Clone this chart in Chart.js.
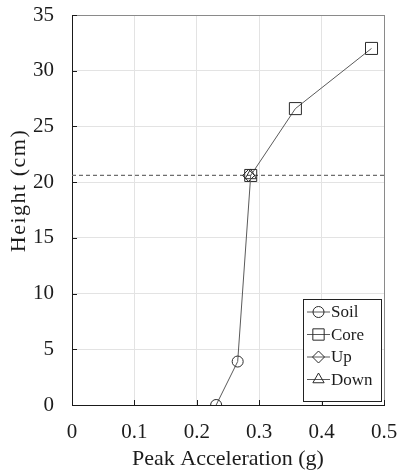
<!DOCTYPE html>
<html>
<head>
<meta charset="utf-8">
<script src="https://cdn.jsdelivr.net/npm/chart.js@4/dist/chart.umd.min.js"></script>
<style>
  html, body { margin: 0; padding: 0; background: #ffffff; }
  #wrap { width: 399px; height: 475px; position: relative; }
</style>
</head>
<body>
<div id="wrap"><canvas id="chart"></canvas></div>
<script>
// Peak acceleration profile along the model height
const soilAccel = [0.231, 0.2655, 0.2864];
const soilHeight = [0, 3.9, 20.6];
const coreAccel = [0.2864, 0.358, 0.480];
const coreHeight = [20.6, 26.6, 32.0];
const upAccel = [0.283];
const upHeight = [20.6];
const downAccel = [0.2864];
const downHeight = [20.6];
const interfaceHeight = 20.6;
const accelRange = [0, 0.5];

const seriesNames = ['Soil', 'Core', 'Up', 'Down'];
const xTickValues = [0, 0.1, 0.2, 0.3, 0.4, 0.5];
const xTickLabels = ['0', '0.1', '0.2', '0.3', '0.4', '0.5'];
const yTickValues = [0, 5, 10, 15, 20, 25, 30, 35];
const yTickLabels = ['0', '5', '10', '15', '20', '25', '30', '35'];
const xAxisTitle = 'Peak Acceleration (g)';
const yAxisTitle = 'Height (cm)';

const SERIF = "'Liberation Serif', 'Times New Roman', serif";
const TEXT = '#1c1c1c';
const LINE = '#5a5a5a';
const MARK = '#2a2a2a';

const pairs = (xs, ys) => xs.map((x, i) => ({ x: x, y: ys[i] }));

const datasets = [
  {
    label: seriesNames[0], data: pairs(soilAccel, soilHeight),
    pointStyle: 'circle', pointRadius: [5.5, 5.5, 0], legendRadius: 5.5,
    borderColor: LINE, borderWidth: 1, pointBorderColor: MARK, pointBorderWidth: 1,
    pointBackgroundColor: 'rgba(0,0,0,0)', showLine: true, inLegend: true
  },
  {
    label: seriesNames[1], data: pairs(coreAccel, coreHeight),
    pointStyle: 'rect', pointRadius: 8.5, legendRadius: 8,
    borderColor: LINE, borderWidth: 1, pointBorderColor: MARK, pointBorderWidth: 1,
    pointBackgroundColor: 'rgba(0,0,0,0)', showLine: true, inLegend: true
  },
  {
    label: seriesNames[2], data: pairs(upAccel, upHeight),
    pointStyle: 'rectRot', pointRadius: 6, legendRadius: 6,
    borderColor: LINE, borderWidth: 1, pointBorderColor: MARK, pointBorderWidth: 1,
    pointBackgroundColor: 'rgba(0,0,0,0)', showLine: false, inLegend: true
  },
  {
    label: seriesNames[3], data: pairs(downAccel, downHeight),
    pointStyle: 'triangle', pointRadius: 6.5, legendRadius: 6.5,
    borderColor: LINE, borderWidth: 1, pointBorderColor: MARK, pointBorderWidth: 1,
    pointBackgroundColor: 'rgba(0,0,0,0)', showLine: false, inLegend: true
  },
  {
    label: 'interface', data: pairs(accelRange, [interfaceHeight, interfaceHeight]),
    borderColor: '#6e6e6e', borderWidth: 1.2, borderDash: [4, 3], pointRadius: 0,
    showLine: true, inLegend: false, order: 5
  }
];

// marker outline used by the boxed legend
function markerPath(ctx, style, x, y, r) {
  ctx.beginPath();
  if (style === 'rect') {
    const s = Math.SQRT1_2 * r;
    ctx.rect(x - s, y - s, 2 * s, 2 * s);
  } else if (style === 'rectRot') {
    ctx.moveTo(x - r, y); ctx.lineTo(x, y - r); ctx.lineTo(x + r, y); ctx.lineTo(x, y + r);
    ctx.closePath();
  } else if (style === 'triangle') {
    let a = 0;
    ctx.moveTo(x + Math.sin(a) * r, y - Math.cos(a) * r);
    a += 2 * Math.PI / 3;
    ctx.lineTo(x + Math.sin(a) * r, y - Math.cos(a) * r);
    a += 2 * Math.PI / 3;
    ctx.lineTo(x + Math.sin(a) * r, y - Math.cos(a) * r);
    ctx.closePath();
  } else {
    ctx.arc(x, y, r, 0, Math.PI * 2);
  }
}

const frameAndLegend = {
  id: 'frameAndLegend',
  afterDatasetsDraw(chart) {
    const ctx = chart.ctx;
    const a = chart.chartArea;
    const xs = chart.scales.x, ys = chart.scales.y;
    ctx.save();
    // inward tick marks
    ctx.strokeStyle = '#1a1a1a';
    ctx.lineWidth = 1;
    ctx.beginPath();
    xTickValues.forEach(v => {
      const px = Math.round(xs.getPixelForValue(v)) + 0.5;
      ctx.moveTo(px, a.bottom); ctx.lineTo(px, a.bottom - 5);
    });
    yTickValues.forEach(v => {
      const py = Math.round(ys.getPixelForValue(v)) + 0.5;
      ctx.moveTo(a.left, py); ctx.lineTo(a.left + 5, py);
    });
    ctx.stroke();

    // boxed legend, lower right
    const items = chart.data.datasets.filter(d => d.inLegend);
    const bw = 78, rowH = 22.5;
    const bh = 102;
    const bx = a.right - 3 - bw;
    const by = a.bottom - 4 - bh;
    ctx.fillStyle = '#ffffff';
    ctx.fillRect(bx, by, bw, bh);
    ctx.strokeStyle = '#222222';
    ctx.lineWidth = 1;
    ctx.strokeRect(Math.round(bx) + 0.5, Math.round(by) + 0.5, bw, bh);
    ctx.font = '17px ' + SERIF;
    ctx.textBaseline = 'middle';
    ctx.textAlign = 'left';
    items.forEach((d, i) => {
      const cy = by + 13 + i * rowH;
      const mx = bx + 15.5;
      ctx.strokeStyle = LINE;
      ctx.beginPath();
      ctx.moveTo(bx + 4, cy); ctx.lineTo(bx + 27, cy);
      ctx.stroke();
      ctx.strokeStyle = MARK;
      markerPath(ctx, d.pointStyle, mx, cy, d.legendRadius);
      ctx.stroke();
      ctx.fillStyle = TEXT;
      ctx.fillText(d.label, bx + 28, cy + 1);
    });

    // vertical axis title
    ctx.save();
    ctx.translate(19, a.top + (a.bottom - a.top) * 0.45);
    ctx.rotate(-Math.PI / 2);
    ctx.font = '22px ' + SERIF;
    if ('letterSpacing' in ctx) ctx.letterSpacing = '1.5px';
    ctx.textAlign = 'center';
    ctx.textBaseline = 'middle';
    ctx.fillStyle = TEXT;
    ctx.fillText(yAxisTitle, 0, 0);
    ctx.restore();
    ctx.restore();
  }
};

new Chart(document.getElementById('chart'), {
  type: 'scatter',
  data: { datasets: datasets },
  options: {
    responsive: true,
    maintainAspectRatio: false,
    animation: false,
    layout: { padding: { left: 0, top: 15, right: 15, bottom: 0 } },
    plugins: { legend: { display: false }, tooltip: { enabled: false } },
    scales: {
      x: {
        type: 'linear', min: 0, max: 0.5,
        afterBuildTicks: s => { s.ticks = xTickValues.map(v => ({ value: v })); },
        afterFit: s => { s.height = 70; s.paddingLeft = 0; s.paddingRight = 0; },
        ticks: {
          callback: (v) => xTickLabels[xTickValues.indexOf(v)],
          font: { family: SERIF, size: 21 }, color: TEXT, padding: 15, maxRotation: 0
        },
        grid: {
          drawTicks: false,
          color: c => (c.tick && c.tick.value === 0.5) ? '#8a8a8a' : '#e3e3e3',
          lineWidth: 1
        },
        border: { color: '#1a1a1a', width: 1 },
        title: {
          display: true, text: xAxisTitle, color: TEXT,
          font: { family: SERIF, size: 22 }, padding: { top: 0, bottom: 3 }
        }
      },
      y: {
        type: 'linear', min: 0, max: 35,
        afterBuildTicks: s => { s.ticks = yTickValues.map(v => ({ value: v })); },
        afterFit: s => { s.width = 72; s.paddingTop = 0; s.paddingBottom = 0; },
        ticks: {
          callback: (v) => yTickLabels[yTickValues.indexOf(v)],
          font: { family: SERIF, size: 21 }, color: TEXT, padding: 18
        },
        grid: {
          drawTicks: false,
          color: c => (c.tick && c.tick.value === 35) ? '#8a8a8a' : '#e3e3e3',
          lineWidth: 1
        },
        border: { color: '#1a1a1a', width: 1 }
      }
    }
  },
  plugins: [frameAndLegend]
});
</script>
</body>
</html>
